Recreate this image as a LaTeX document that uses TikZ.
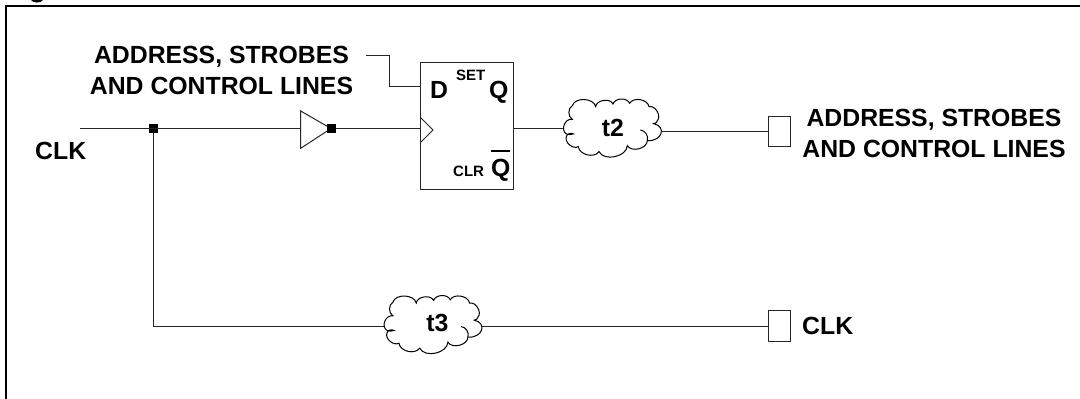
\documentclass[tikz,border=0pt]{standalone}
\usepackage{fontspec}
\setmainfont{Liberation Sans}
\tikzset{
  x=1pt,y=-1pt,
  wire/.style={line width=1pt,black!85},
  frameline/.style={line width=2pt,black},
  outline/.style={draw=black!85,line width=1pt,fill=white,inner sep=0pt},
  ffbox/.style={outline,rectangle,minimum width=93pt,minimum height=126.7pt},
  portbox/.style={outline,rectangle,minimum width=22.5pt,minimum height=30.6pt},
  dotnode/.style={fill=black,rectangle,minimum size=8.6pt,inner sep=0pt},
  big/.style={font=\fontsize{24.8}{30.5}\selectfont\bfseries,inner sep=0pt,align=center},
  small/.style={font=\fontsize{15}{16}\selectfont\bfseries,inner sep=0pt},
  cloudedge/.style={draw=black,line width=1pt,fill=white},
}
\newcommand{\cloudpath}[1]{%
  \draw[cloudedge,shift={(#1)},x=0.3333pt,y=-0.3333pt]
    (28,22) to[bend left=75] (98,25)
    to[bend left=75] (150,17)
    to[bend left=70] (200,15)
    to[bend left=70] (258,25)
    to[bend left=75] (283,67)
    to[bend left=40] (272,76)
    .. controls (312,85) and (297,130) .. (253,127)
    to[bend left=75] (193,142)
    to[bend left=75] (108,160)
    to[bend left=70] (46,145)
    to[bend left=70] (10,115)
    to[bend left=55] (31,107)
    to[bend left=20] (10,107)
    .. controls (-8,95) and (5,60) .. (28,63)
    to[bend left=60] (28,22) -- cycle;
  \draw[black,line width=1pt,shift={(#1)},x=0.3333pt,y=-0.3333pt]
    (232,95) to[bend left=50] (253,127);
}
\begin{document}
\begin{tikzpicture}
\useasboundingbox (0,0) rectangle (1080,399);
\draw[frameline] (6,400) -- (6,5.7) -- (1081,5.7);
\fill[black] (31,0) .. controls (33,3.4) and (41,3.4) .. (43,0) -- cycle;

% nodes
\node[ffbox] (ff) at (467.3,125.7) {};
\coordinate (invT) at (300.7,111);
\coordinate (invB) at (300.7,148.3);
\coordinate (invA) at (331,128.5);
\node[dotnode] (j1) at (153.4,128.2) {};
\node[dotnode] (j2) at (331.5,128.2) {};
\node[portbox] (p1) at (779.5,131.5) {};
\node[portbox] (p2) at (779.5,326) {};
\node[inner sep=0pt,minimum width=97pt,minimum height=60pt] (t2) at (611.7,128.5) {};
\node[inner sep=0pt,minimum width=97pt,minimum height=60pt] (t3) at (432.3,325) {};
\coordinate (dstart) at (365.7,55);
\coordinate (clkstart) at (80,128.2);
\coordinate (dcorner) at (389.8,86);

% connectors
\draw[wire] (clkstart) -- (invT |- clkstart);
\draw[wire] (j2.east) -- (ff.west |- j2.east);
\draw[wire] (j1) |- (t3.west |- p2.west);
\draw[wire] (t3.east |- p2.west) -- (p2.west);
\draw[wire] (ff.east |- t2.west) -- (t2.west);
\draw[wire] (t2.east |- p1.west) -- (p1.west);
\draw[wire] (dstart) -| (dcorner) -- (ff.west |- dcorner);

% on top
\draw[outline] (invT) -- (invA) -- (invB) -- cycle;
\node[dotnode] at (j2) {};
\cloudpath{t2.north west}
\cloudpath{t3.north west}
\coordinate (ckT) at (ff.west |- 0,117.3);
\coordinate (ckB) at (ff.west |- 0,142.7);
\coordinate (ckA) at (433,130);
\draw[wire] (ckT) -- (ckA) -- (ckB);

% text
\node[big,anchor=base] (l1) at (221.5,94) {ADDRESS, STROBES\\AND CONTROL LINES};
\node[big,anchor=base] (l2) at (934,157) {ADDRESS, STROBES\\AND CONTROL LINES};
\node[big,anchor=base west] (l3) at (35,159.3) {CLK};
\node[big,anchor=base west] (l4) at (802,334) {CLK};
\node[big,anchor=base west] (d) at (430,98) {D};
\node[big,anchor=base west] (q) at (489,98) {Q};
\node[big,anchor=base west] (qb) at (491,176.7) {Q};
\draw[black,line width=2pt] (491,151) -- (510,151);
\node[small,anchor=base west] (set) at (456,80) {SET};
\node[small,anchor=base west] (clr) at (453,176.7) {CLR};
\node[big,anchor=base] (tt2) at (612.8,136) {t2};
\node[big,anchor=base] (tt3) at (437.5,331.7) {t3};
\end{tikzpicture}
\end{document}
